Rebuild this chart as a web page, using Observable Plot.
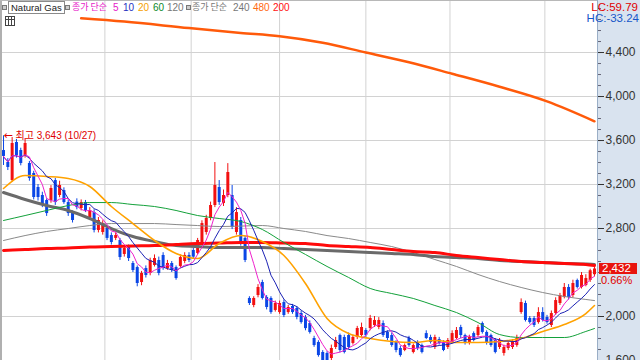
<!DOCTYPE html>
<html><head><meta charset="utf-8">
<script src="https://cdn.jsdelivr.net/npm/d3@7"></script>
<script src="https://cdn.jsdelivr.net/npm/@observablehq/plot@0.6"></script>
<style>
html,body{margin:0;padding:0;background:#fff;}
#wrap{position:relative;width:640px;height:360px;overflow:hidden;background:#d9e3ef;}
#wrap svg{position:absolute;left:0;top:0;}
.ov{position:absolute;white-space:nowrap;font-family:"Liberation Sans","Noto Sans CJK KR",sans-serif;}
.h{position:absolute;top:2px;font-size:10px;line-height:11px;white-space:nowrap;font-family:"Liberation Sans",sans-serif;}
.h.k{font-family:"Noto Sans CJK KR",sans-serif;font-size:9px;line-height:12px;top:1px;}
.sq{position:absolute;top:5px;width:3px;height:3px;border:1px solid #777;background:#ccc;}
.h.nm{border:1px solid #8a8a8a;background:#fff;padding:0 2px;color:#222;top:1px;font-size:9.5px;}
#icon{left:5px;top:16px;width:8px;height:8px;border:1px solid #444;background:
 linear-gradient(#444,#444) 0 2px/100% 1px no-repeat,
 linear-gradient(#444,#444) 2px 0/1px 100% no-repeat,
 linear-gradient(#444,#444) 5px 0/1px 100% no-repeat,#fff;}
#lc{right:2px;top:1px;font-size:11.5px;color:#e00000;}
#hc{right:1px;top:12px;font-size:11.5px;color:#1656c8;}
#pbox{left:599px;width:38px;height:11px;background:#e8140e;color:#fff;font-size:11.5px;line-height:11px;padding-left:3px;box-sizing:border-box;}
#pchg{left:601px;font-size:11px;color:#e00000;}
#panelLine{position:absolute;left:597px;top:0;width:1px;height:360px;background:#9aaec6;}
#topLine{position:absolute;left:0;top:0;width:597px;height:1px;background:#b8b8b8;}
#leftLine{position:absolute;left:0;top:0;width:2px;height:360px;background:#b0b0b0;}
</style></head><body>
<div id="wrap"></div>
<script>
// ---- candle data (Natural Gas, daily) ----
const opens = [3509,3400,3236,3582,3509,3464,3391,3300,3173,3100,
3055,3055,3236,3100,3145,3036,2945,3040,2982,3036,
2900,2945,2782,2764,2800,2736,2710,2691,2564,2627,
2482,2445,2309,2436,2391,2464,2509,2555,2436,2482,
2445,2455,2500,2555,2600,2573,2664,2764,2891,3009,
3173,3027,3100,3100,2764,2873,2710,2164,2100,2191,
2309,2173,2164,2055,2036,2127,2036,2091,2073,2027,
1990,1936,1800,1764,1673,1664,1618,1718,1827,1809,
1827,1755,1809,1827,1873,1891,1918,1900,1936,1855,
1827,1764,1709,1691,1800,1673,1764,1736,1845,1809,
1718,1790,1764,1718,1764,1800,1900,1827,1755,1845,
1827,1936,1855,1827,1782,1718,1664,1709,1718,1736,
2036,2118,1982,1982,1945,2036,1991,1918,2027,2118,
2173,2264,2191,2327,2264,2282,2327,2380];
const closes = [3455,3355,3573,3464,3391,3573,3255,3082,3082,3009,
2936,3164,3036,3191,3036,2936,2873,2990,3036,2964,
2964,2782,2873,2845,2710,2673,2736,2536,2618,2527,
2418,2300,2391,2373,2509,2527,2391,2436,2482,2418,
2345,2536,2555,2509,2540,2691,2845,2891,3009,3191,
3036,3100,3309,2809,2945,2664,2509,2118,2164,2264,
2164,2082,2036,2118,2118,2009,2082,2036,1991,1945,
1890,1855,1736,1645,1600,1600,1709,1782,1691,1673,
1718,1809,1891,1900,1827,1982,1964,1964,1827,1800,
1736,1691,1645,1736,1736,1736,1709,1673,1800,1764,
1809,1755,1691,1782,1845,1873,1827,1755,1809,1782,
1900,1855,1755,1736,1673,1782,1718,1755,1764,1800,
2127,1964,1945,1918,2036,1964,1945,2027,2145,2191,
2264,2173,2300,2264,2373,2345,2416,2432];
const highs = [3643,3436,3627,3610,3530,3618,3410,3320,3200,3130,
3070,3190,3255,3230,3170,3060,2960,3070,3060,3055,
2990,2970,2900,2870,2830,2760,2760,2710,2640,2650,
2500,2460,2410,2460,2530,2560,2540,2580,2510,2500,
2460,2560,2580,2580,2620,2710,2870,2920,3040,3400,
3236,3150,3390,3191,2990,2900,2730,2180,2180,2290,
2330,2190,2180,2140,2140,2150,2100,2110,2090,2050,
2010,1960,1820,1780,1690,1680,1740,1810,1840,1830,
1850,1830,1910,1940,1890,2010,2000,1990,1960,1870,
1850,1780,1730,1750,1820,1750,1780,1750,1870,1830,
1830,1810,1780,1800,1870,1900,1920,1840,1830,1860,
1920,1950,1870,1840,1800,1800,1740,1770,1790,1830,
2160,2140,2000,2000,2080,2080,2010,2050,2170,2210,
2300,2290,2330,2340,2400,2380,2430,2450];
const lows = [3373,3327,3220,3440,3370,3440,3230,3060,3050,2990,
2910,3030,3010,3080,3020,2910,2850,2970,2960,2945,
2880,2760,2760,2740,2690,2650,2690,2510,2540,2500,
2400,2270,2280,2350,2370,2450,2370,2420,2420,2400,
2330,2440,2480,2490,2520,2560,2650,2740,2870,2990,
3010,3000,3080,2790,2740,2640,2490,2100,2080,2170,
2150,2060,2020,2040,2020,1990,2020,2020,1970,1930,
1870,1840,1720,1630,1590,1590,1600,1700,1670,1660,
1700,1740,1790,1810,1810,1870,1900,1880,1810,1780,
1720,1670,1630,1680,1720,1660,1690,1660,1790,1750,
1700,1740,1680,1700,1750,1790,1800,1740,1740,1770,
1810,1840,1740,1720,1660,1700,1640,1690,1700,1720,
2020,1950,1930,1900,1930,1950,1930,1900,2010,2100,
2160,2150,2170,2250,2250,2270,2310,2360];

// ---- long moving averages at these candle indices ----
const maIdx = [0,5,10,15,20,25,30,35,40,45,50,55,60,65,70,75,80,85,90,95,100,105,110,115,120,125,130,135,137];
const ma20  = [3164,3282,3273,3255,3182,3000,2845,2691,2573,2527,2664,2736,2682,2555,2300,1982,1845,1800,1773,1764,1782,1764,1764,1773,1800,1864,1927,2027,2100];
const ma60  = [2873,2918,2964,3009,3036,3036,3018,3000,2964,2918,2891,2864,2791,2673,2564,2455,2355,2255,2209,2164,2100,2036,1945,1836,1809,1809,1809,1864,1891];
const ma120 = [2691,2736,2773,2800,2827,2845,2845,2845,2836,2827,2818,2822,2827,2800,2773,2736,2709,2673,2636,2582,2518,2455,2382,2318,2264,2218,2182,2155,2145];
const ma240 = [3127,3064,3009,2964,2891,2800,2727,2682,2645,2636,2627,2627,2627,2618,2609,2600,2591,2582,2573,2564,2545,2536,2527,2509,2500,2491,2482,2477,2473];
const ma200 = [2600,2609,2618,2623,2632,2636,2641,2645,2655,2664,2668,2673,2673,2668,2664,2645,2636,2627,2609,2591,2582,2555,2536,2518,2500,2491,2482,2473,2464];
const ma480Idx = [18,28,43,55,64,74,84,94,104,115,126,137];
const ma480    = [4711,4681,4622,4578,4548,4489,4400,4311,4207,4089,3956,3775];

// ---- axis / grid / labels ----
const yGrid = [1600,2000,2400,2800,3200,3600,4000,4400];
const yLabels = [1600,2000,2800,3200,3600,4000,4400];
const yMinor = d3.range(1600, 4900, 100);
const monthIdx = [23.5,43.5,64,84,103.5,125.5];
const highNote = {i: 0, v: 3643, arrow: "←", label: "최고 3,643 (10/27)"};
const lastClose = 2432, changePct = "0.66%";
const lcText = "LC:59.79", hcText = "HC:-33.24";
const maTitle = "종가 단순";

const UP = "#f21010", DOWN = "#0a46e6";
const candles = closes.map((c, i) => ({i, o: opens[i], h: highs[i], l: lows[i], c, up: c >= opens[i]}));
const N = candles.length;
const series = vals => maIdx.map((i, k) => ({i, v: vals[k]}));
const s480 = ma480Idx.map((i, k) => ({i, v: ma480[k]}));
const ff = "Liberation Sans, Noto Sans CJK KR, sans-serif";

const chart = Plot.plot({
  width: 640, height: 360,
  marginLeft: 0, marginRight: 43, marginTop: 0, marginBottom: 0,
  x: {domain: [-0.7, N - 0.3], axis: null},
  y: {domain: [1600, 4873], axis: null},
  style: {background: "transparent", fontFamily: ff, fontSize: "12px", overflow: "hidden"},
  marks: [
    Plot.frame({fill: "white", stroke: null}),
    Plot.ruleY(yGrid, {stroke: "#d2d2d2"}),
    Plot.ruleX(monthIdx, {stroke: "#d2d2d2"}),
    Plot.axisY(yMinor, {anchor: "right", tickSize: 3, tickFormat: () => "", stroke: "#667"}),
    Plot.axisY(yLabels, {anchor: "right", tickSize: 6, tickPadding: 2, tickFormat: d3.format(","), color: "#333", fontSize: 12}),
    // candles
    Plot.ruleX(candles, {x: "i", y1: "l", y2: "h", stroke: d => d.up ? UP : DOWN, strokeWidth: 1}),
    Plot.ruleX(candles, {x: "i", y1: "o", y2: "c", stroke: d => d.up ? UP : DOWN, strokeWidth: 3}),
    // moving averages
    Plot.line(s480, {x: "i", y: "v", stroke: "#ff5a0a", strokeWidth: 2.5, curve: "monotone-x"}),
    Plot.line(series(ma120), {x: "i", y: "v", stroke: "#8a8a8a", strokeWidth: 1, curve: "monotone-x"}),
    Plot.line(series(ma240), {x: "i", y: "v", stroke: "#6a6a6a", strokeWidth: 3, curve: "monotone-x"}),
    Plot.line(series(ma200), {x: "i", y: "v", stroke: "#ff0a0a", strokeWidth: 3, curve: "monotone-x"}),
    Plot.line(series(ma60), {x: "i", y: "v", stroke: "#13a13a", strokeWidth: 1, curve: "monotone-x"}),
    Plot.line(series(ma20), {x: "i", y: "v", stroke: "#ffa200", strokeWidth: 1.6, curve: "monotone-x"}),
    Plot.lineY(candles, Plot.windowY({k: 10, anchor: "end", reduce: "mean"}, {x: "i", y: "c", stroke: "#1c22b4", strokeWidth: 1})),
    Plot.lineY(candles, Plot.windowY({k: 5, anchor: "end", reduce: "mean"}, {x: "i", y: "c", stroke: "#ee22cc", strokeWidth: 1})),
    Plot.text([highNote], {x: "i", y: "v", text: "arrow", textAnchor: "start", dx: 0, fill: "#e00000", fontSize: 11, fontFamily: "DejaVu Sans"}),
    Plot.text([highNote], {x: "i", y: "v", text: "label", textAnchor: "start", dx: 12, fill: "#e00000", fontSize: 10})
  ]
});

const wrap = document.getElementById("wrap");
wrap.appendChild(chart);
const yPix = chart.scale("y").apply(lastClose);
wrap.insertAdjacentHTML("beforeend", `
<div id="leftLine"></div><div id="topLine"></div><div id="panelLine"></div>
<span class="sq" style="left:2px"></span>
<span class="h nm" style="left:8px">Natural Gas</span>
<span class="sq" style="left:65px"></span>
<span class="h k" style="left:72px;color:#e619c8">${maTitle}</span>
<span class="h" style="left:113px;color:#e619c8">5</span>
<span class="h" style="left:123px;color:#1f2fbf">10</span>
<span class="h" style="left:138px;color:#f5a000">20</span>
<span class="h" style="left:153px;color:#0c8a2a">60</span>
<span class="h" style="left:167px;color:#777">120</span>
<span class="sq" style="left:186px"></span>
<span class="h k" style="left:192px;color:#777">${maTitle}</span>
<span class="h" style="left:233px;color:#777">240</span>
<span class="h" style="left:253px;color:#ff6a10">480</span>
<span class="h" style="left:273px;color:#ff1010">200</span>
<div id="icon" class="ov"></div>
<div id="lc" class="ov">${lcText}</div><div id="hc" class="ov">${hcText}</div>
<div id="pbox" class="ov" style="top:${yPix - 5}px">${d3.format(",")(lastClose)}</div>
<div id="pchg" class="ov" style="top:${yPix + 6}px">${changePct}</div>`);
</script>
</body></html>
